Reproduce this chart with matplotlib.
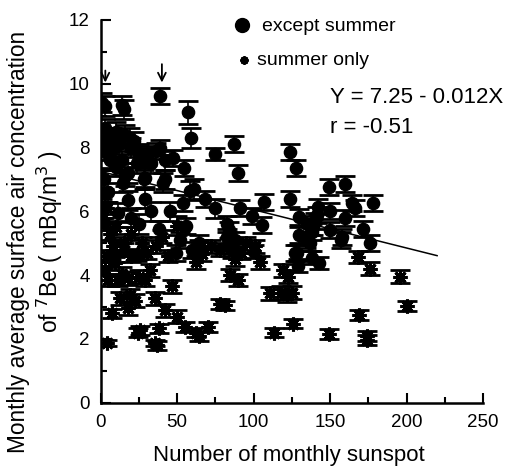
import matplotlib
matplotlib.use("Agg")
import matplotlib.pyplot as plt
from matplotlib.ticker import MultipleLocator

plt.rcParams['font.family'] = ['Liberation Sans', 'DejaVu Sans']

# ---- data: except summer (circles) ----
ns_x = [1, 3, 14, 15, 39, 57, 59,
        3, 5, 7.5, 10, 12, 16, 19, 20, 8, 4, 2, 22, 25, 28, 30, 33, 36, 39, 42, 47.5, 54.5, 24, 14, 10, 6, 18,
        0, 2, 14.6, 16, 29, 42, 41, 28,
        61, 58.5, 68, 75, 75, 87, 90, 91, 99, 107, 124, 128, 124, 105.5, 82.5, 82.5, 84.5, 54, 56, 38, 49,
        29, 18, 4.8, 1, 11, 0, 20, 25, 33, 45, 52, 60, 64, 84, 86, 88,
        127, 149, 160, 142, 164.5, 178, 166, 130, 141.5, 160, 139, 171.6, 130, 138, 158, 176, 137, 128.5,
        143, 129, 138, 150, 150, 157, 135, 140, 134]
ns_y = [9.4, 9.3, 9.33, 9.2, 9.62, 9.1, 8.3,
        8.6, 8.3, 8.3, 8.5, 8.1, 8.4, 8.3, 8.0, 8.0, 8.1, 7.9, 8.2, 7.8, 7.7, 7.75, 7.5, 7.9, 8.0, 7.6, 7.67, 7.36, 7.5, 7.6, 7.4, 7.6, 7.2,
        7.05, 7.0, 6.9, 7.1, 7.05, 7.0, 6.9, 7.0,
        6.7, 6.65, 6.4, 7.8, 6.1, 8.1, 7.2, 6.1, 5.85, 6.3, 7.85, 7.35, 6.4, 5.57, 5.6, 5.2, 4.95, 6.25, 5.55, 5.45, 4.7,
        6.4, 6.35, 6.6, 6.1, 5.95, 5.9, 5.8, 5.6, 6.0, 6.0, 5.1, 4.8, 5.0, 5.4, 4.8, 5.1,
        4.7, 6.77, 6.85, 6.15, 6.25, 6.25, 6.1, 5.83, 5.87, 5.8, 5.5, 5.45, 5.25, 5.34, 5.2, 5.0, 5.0, 4.7,
        4.38, 4.3, 4.55, 6.0, 5.4, 5.1, 5.6, 5.7, 5.1]
ns_err = [0.3, 0.3, 0.3, 0.3, 0.25, 0.35, 0.3,
          0.3, 0.3, 0.3, 0.3, 0.3, 0.3, 0.3, 0.3, 0.3, 0.3, 0.3, 0.3, 0.3, 0.3, 0.3, 0.3, 0.25, 0.25, 0.3, 0.25, 0.25, 0.3, 0.3, 0.3, 0.3, 0.3,
          0.3, 0.3, 0.3, 0.3, 0.3, 0.3, 0.3, 0.3,
          0.3, 0.3, 0.25, 0.2, 0.3, 0.25, 0.25, 0.25, 0.25, 0.25, 0.25, 0.25, 0.25, 0.25, 0.25, 0.25, 0.25, 0.25, 0.25, 0.25, 0.25,
          0.3, 0.3, 0.3, 0.3, 0.3, 0.3, 0.3, 0.3, 0.3, 0.3, 0.25, 0.25, 0.25, 0.25, 0.25, 0.25,
          0.25, 0.25, 0.25, 0.25, 0.25, 0.25, 0.25, 0.25, 0.25, 0.25, 0.25, 0.25, 0.25, 0.25, 0.25, 0.25, 0.25, 0.25,
          0.2, 0.2, 0.2, 0.25, 0.25, 0.25, 0.25, 0.25, 0.25]

# ---- data: summer only (asterisks) ----
s_x = [0, 1, 2, 4, 6, 4, 3, 5, 7.4, 4, 9, 9.4, 11, 12.6, 18, 18, 22.4, 23.6, 24.5, 29, 32, 35.5, 35.5, 38,
       42, 46.6, 50, 50, 55, 62, 62, 64, 70, 78, 81, 84.5, 89.6, 101, 104, 110.8, 113, 119, 122.5, 121.6,
       126, 149, 168, 169, 174, 174, 176, 196, 200,
       10, 15, 20, 27, 30, 36, 40, 44, 14, 25, 20, 8, 15,
       64, 66, 72, 78, 92, 95, 88, 100, 118, 125, 19, 26, 37]
s_y = [6.5, 6.0, 5.6, 6.1, 5.3, 4.6, 4.2, 3.85, 2.8, 1.87, 4.6, 4.37, 3.85, 3.27, 3.9, 2.96, 3.2, 4.63, 2.2, 3.85, 4.15, 3.27, 1.87, 2.33,
       2.9, 3.65, 2.7, 5.55, 2.37, 4.4, 2.2, 2.1, 2.37, 3.1, 3.05, 4.0, 3.85, 4.9, 4.4, 3.43, 2.2, 4.15, 3.95, 3.37,
       2.48, 2.15, 4.57, 2.75, 2.1, 1.96, 4.2, 3.95, 3.03,
       5.5, 5.0, 5.3, 5.0, 4.7, 4.9, 5.2, 4.6, 4.05, 3.95, 4.6, 4.9, 4.8,
       4.9, 4.65, 4.9, 4.8, 4.7, 5.0, 4.5, 4.75, 3.45, 3.45, 3.37, 2.27, 1.8]
s_err = [0.2, 0.2, 0.2, 0.2, 0.2, 0.2, 0.2, 0.2, 0.15, 0.1, 0.2, 0.2, 0.2, 0.2, 0.2, 0.2, 0.2, 0.2, 0.15, 0.2, 0.2, 0.2, 0.1, 0.15,
         0.2, 0.2, 0.2, 0.3, 0.15, 0.2, 0.15, 0.15, 0.15, 0.15, 0.15, 0.2, 0.2, 0.2, 0.2, 0.2, 0.15, 0.2, 0.2, 0.2,
         0.15, 0.15, 0.2, 0.15, 0.15, 0.15, 0.2, 0.2, 0.15,
         0.2, 0.2, 0.2, 0.2, 0.2, 0.2, 0.2, 0.2, 0.2, 0.2, 0.2, 0.2, 0.2,
         0.2, 0.2, 0.2, 0.2, 0.2, 0.2, 0.2, 0.2, 0.2, 0.2, 0.2, 0.15, 0.15]

# regression
fit_intercept = 7.25
fit_slope = -0.012
fit_x = [0, 220]

arrow_x = [3, 40]

fig = plt.figure(figsize=(5.14, 4.74), dpi=100)
ax = fig.add_axes([0.196, 0.1504, 0.7436, 0.8076])

ax.errorbar(s_x, s_y, yerr=s_err, fmt='none', ecolor='black', elinewidth=1.2,
            capsize=7, capthick=2, zorder=2)
ax.plot(s_x, s_y, linestyle='none', marker=(8, 2, 0), markersize=10,
        markeredgewidth=2.2, color='black', zorder=3)

ax.errorbar(ns_x, ns_y, yerr=ns_err, fmt='none', ecolor='black', elinewidth=1.2,
            capsize=7, capthick=2, zorder=2)
ax.plot(ns_x, ns_y, linestyle='none', marker='o', markersize=8.8,
        color='black', zorder=3)

ax.plot(fit_x, [fit_intercept + fit_slope * v for v in fit_x], color='black', lw=1.1, zorder=4)

for xa, ytop in zip(arrow_x, [10.5, 10.7]):
    ax.annotate('', xy=(xa, 9.95), xytext=(xa, ytop),
                arrowprops=dict(arrowstyle='->', color='black', lw=1.3,
                                mutation_scale=14))

# legend (manual)
ax.plot([92.4], [11.84], marker='o', markersize=10, color='black', clip_on=False)
ax.text(105.5, 11.8, 'except summer', fontsize=14, va='center', ha='left')
ax.plot([94], [10.74], marker=(8, 2, 0), markersize=6, markeredgewidth=1.6,
        color='black', clip_on=False)
ax.text(102.3, 10.74, 'summer only', fontsize=14, va='center', ha='left')

ax.text(150, 9.58, 'Y = 7.25 - 0.012X', fontsize=16, va='center', ha='left')
ax.text(150, 8.62, 'r = -0.51', fontsize=16, va='center', ha='left')

ax.set_xlim(0, 250)
ax.set_ylim(0, 12)
ax.xaxis.set_major_locator(MultipleLocator(50))
ax.xaxis.set_minor_locator(MultipleLocator(25))
ax.yaxis.set_major_locator(MultipleLocator(2))
ax.yaxis.set_minor_locator(MultipleLocator(1))
ax.tick_params(which='major', direction='in', length=7, width=1.5, labelsize=13.5, pad=8)
ax.tick_params(which='minor', direction='in', length=4, width=1.5)
ax.spines['top'].set_visible(False)
ax.spines['right'].set_visible(False)
ax.spines['left'].set_linewidth(1.8)
ax.spines['bottom'].set_linewidth(1.8)

fig.text(0.562, 0.04, 'Number of monthly sunspot', fontsize=16, ha='center', va='center')
fig.text(0.036, 0.49, 'Monthly average surface air concentration', fontsize=16.3,
         rotation=90, ha='center', va='center')
fig.text(0.097, 0.49, 'of $^{7}$Be ( mBq/m$^{3}$ )', fontsize=16.5,
         rotation=90, ha='center', va='center')

fig.savefig('out.png', dpi=100)
